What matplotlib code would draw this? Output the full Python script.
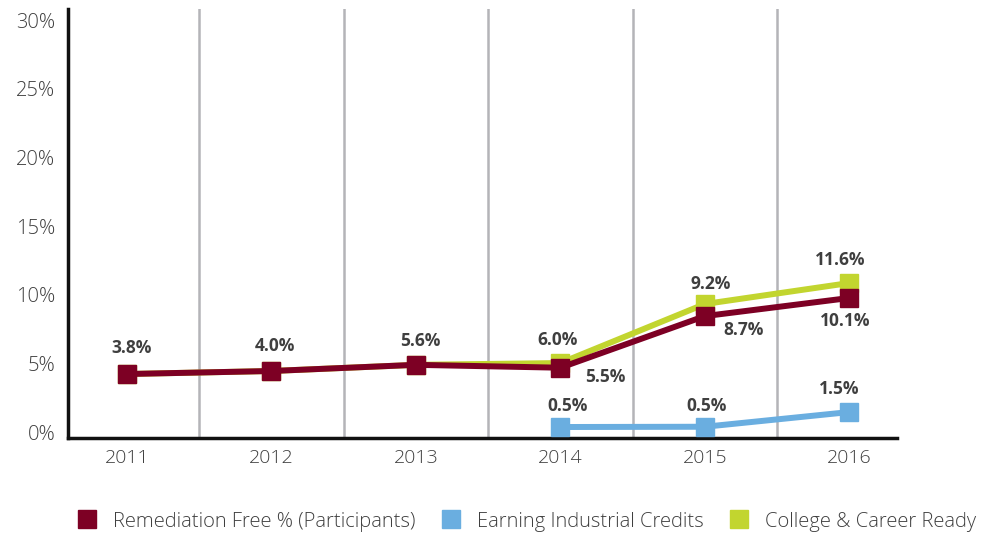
import matplotlib
matplotlib.use('Agg')
import matplotlib.pyplot as plt
from matplotlib.lines import Line2D
import matplotlib.transforms as mtransforms

plt.rcParams['font.family'] = ['Open Sans', 'DejaVu Sans']

# data
years = ['2011', '2012', '2013', '2014', '2015', '2016']
remediation = [4.66, 4.88, 5.33, 5.12, 8.88, 10.2]
remediation_labels = ['3.8%', '4.0%', '5.6%', '5.5%', '8.7%', '10.1%']
industrial_years = ['2014', '2015', '2016']
industrial = [0.8, 0.82, 1.89]
industrial_labels = ['0.5%', '0.5%', '1.5%']
ccr = [4.66, 4.88, 5.33, 5.46, 9.76, 11.29]
ccr_labels = [None, None, None, '6.0%', '9.2%', '11.6%']
yticks = [0, 5, 10, 15, 20, 25, 30]

RED = '#7D0024'
BLUE = '#6AAEE0'
GREEN = '#C2D52F'
TXT = '#3F3F3F'

# label offsets (pixels)
red_off = [(5, 26), (4, 25), (4, 24), (45, -9), (39, -14), (-4, -23)]
green_off = [None, None, None, (-3, 23), (6, 20), (-9, 23)]
blue_off = [(7, 21), (2, 21), (-10, 23)]

fig = plt.figure(figsize=(9.92, 5.36), dpi=100)
ax = fig.add_axes([68 / 992, 98 / 536, 829 / 992, 429 / 536])

x = list(range(len(years)))
xb = [years.index(y) for y in industrial_years]

ax.plot(x, ccr, color=GREEN, lw=4.3, marker='s', ms=13, zorder=3)
ax.plot(xb, industrial, color=BLUE, lw=4.3, marker='s', ms=13, zorder=3)
ax.plot(x, remediation, color=RED, lw=4.3, marker='s', ms=13, zorder=4)

lab_kw = dict(textcoords='offset pixels', ha='center', va='center',
              fontsize=12.5, fontweight='bold', color=TXT, zorder=5)
for i, v in enumerate(remediation):
    ax.annotate(remediation_labels[i], (x[i], v), xytext=red_off[i], **lab_kw)
for i, v in enumerate(ccr):
    if ccr_labels[i]:
        ax.annotate(ccr_labels[i], (x[i], v), xytext=green_off[i], **lab_kw)
for i, v in enumerate(industrial):
    ax.annotate(industrial_labels[i], (xb[i], v), xytext=blue_off[i], **lab_kw)

for i in range(len(years) - 1):
    ax.axvline(i + 0.5, color='#B4B4B8', lw=1.8, zorder=1)

ax.set_xlim(-0.408, 5.33)
ax.set_ylim(0, 31.25)
ax.set_xticks(x)
ax.set_xticklabels(years)
ax.set_yticks(yticks)
ax.set_yticklabels([f'{t}%' for t in yticks])
ax.tick_params(axis='both', length=0, colors=TXT)
ax.tick_params(axis='y', pad=9, labelsize=14.5)
ax.tick_params(axis='x', pad=8, labelsize=14)
for lbl in ax.get_xticklabels() + ax.get_yticklabels():
    lbl.set_fontweight('light')
off = mtransforms.ScaledTranslation(0, 6 / 100, fig.dpi_scale_trans)
for lbl in ax.get_yticklabels():
    lbl.set_transform(lbl.get_transform() + off)

for s in ['top', 'right']:
    ax.spines[s].set_visible(False)
for s in ['left', 'bottom']:
    ax.spines[s].set_linewidth(2.5)
    ax.spines[s].set_color('#111111')

handles = [Line2D([], [], marker='s', ls='none', ms=13, color=c) for c in (RED, BLUE, GREEN)]
names = ['Remediation Free % (Participants)', 'Earning Industrial Credits', 'College & Career Ready']
leg = fig.legend(handles, names, loc='center', bbox_to_anchor=(0.526, 0.027), ncol=3,
                 frameon=False, fontsize=14.5, handletextpad=0.3, columnspacing=0.75,
                 labelcolor=TXT)
for t in leg.get_texts():
    t.set_fontweight('light')

fig.savefig('out.png', dpi=100)
